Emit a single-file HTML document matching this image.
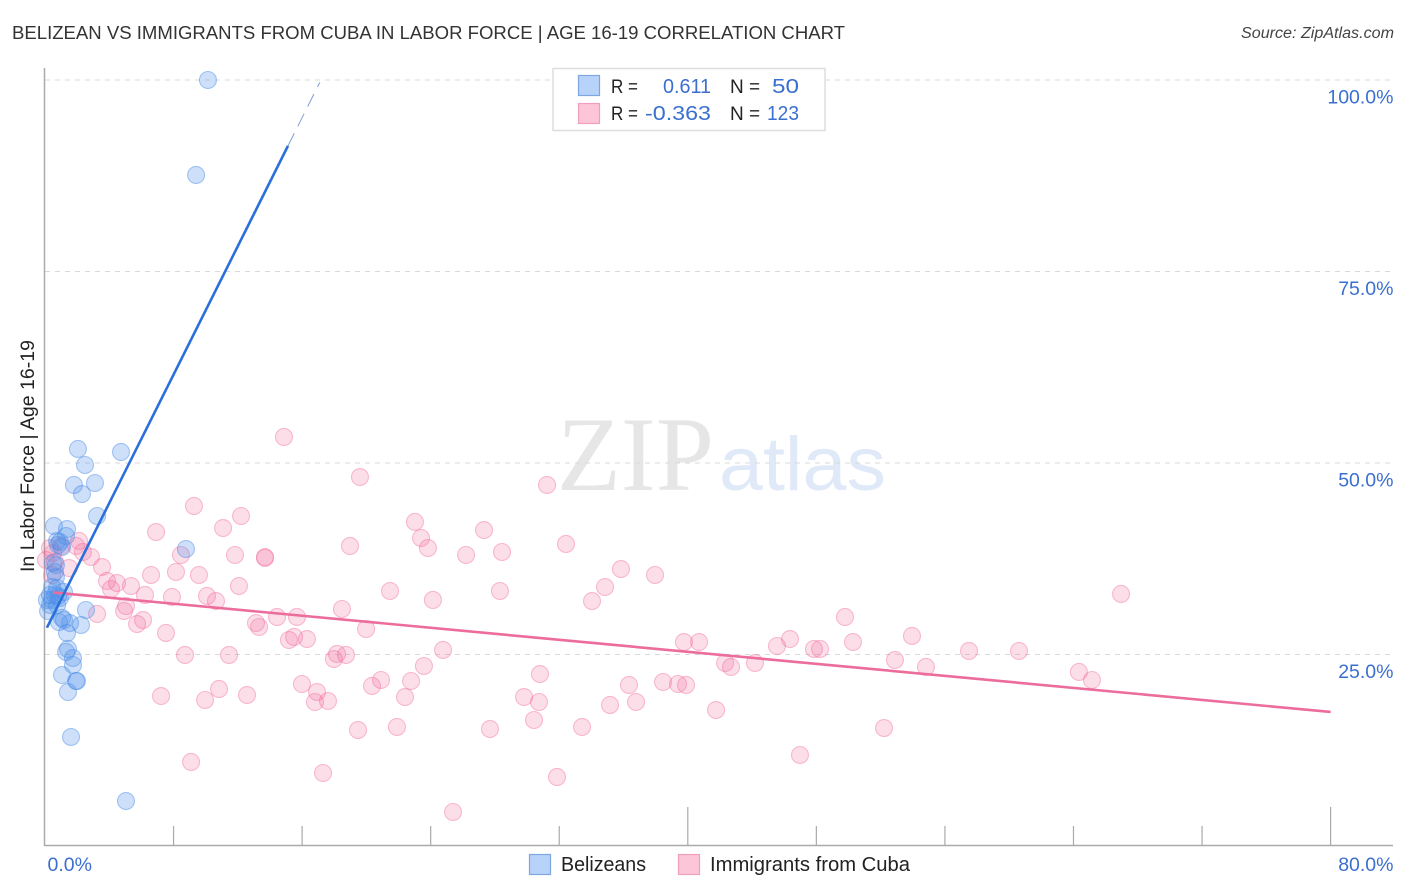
<!DOCTYPE html>
<html lang="en">
<head>
<meta charset="utf-8">
<title>Belizean vs Immigrants from Cuba in Labor Force | Age 16-19 Correlation Chart</title>
<style>
html,body{margin:0;padding:0;background:#fff;width:1406px;height:892px;overflow:hidden}
svg{display:block;font-family:"Liberation Sans",sans-serif}
</style>
</head>
<body>
<svg id="chart" xmlns="http://www.w3.org/2000/svg" width="1406" height="892" viewBox="0 0 1406 892">
  <rect x="0" y="0" width="1406" height="892" fill="#ffffff"/>
  <text x="12" y="39" font-size="18" fill="#333333" textLength="833" lengthAdjust="spacingAndGlyphs">BELIZEAN VS IMMIGRANTS FROM CUBA IN LABOR FORCE | AGE 16-19 CORRELATION CHART</text>
  <text x="1241" y="38" font-size="15.5" font-style="italic" fill="#444444" textLength="153" lengthAdjust="spacingAndGlyphs">Source: ZipAtlas.com</text>

  <g>
    <text x="557" y="490" font-family="'Liberation Serif',serif" font-size="106" fill="#e6e6e6" textLength="157" lengthAdjust="spacingAndGlyphs">ZIP</text>
    <text x="719" y="490" font-size="76" fill="#dfe9f8" textLength="167" lengthAdjust="spacingAndGlyphs">atlas</text>
  </g>

  <g id="grid"></g>
  <g id="axes"></g>
  <g id="points-cuba"></g>
  <g id="points-belizeans"></g>
  <g id="trends"></g>
  <g id="tick-labels"></g>

  <text transform="translate(34,572) rotate(-90)" x="0" y="0" font-size="19" fill="#222222" textLength="232" lengthAdjust="spacingAndGlyphs">In Labor Force | Age 16-19</text>

  <g>
    <rect x="553" y="68.5" width="272" height="62" fill="#ffffff" stroke="#dddddd" stroke-width="1.5"/>
    <rect x="578.5" y="75.5" width="21" height="20" fill="#b8d3f9" stroke="#7ea6df" stroke-width="1.2"/>
    <rect x="578.5" y="103.5" width="21" height="20" fill="#fcc5d8" stroke="#f0a0bd" stroke-width="1.2"/>
    <text x="611" y="93" font-size="19" fill="#222222" textLength="27" lengthAdjust="spacingAndGlyphs">R =</text>
    <text x="663" y="93" font-size="20" fill="#3b6fcf" textLength="48" lengthAdjust="spacingAndGlyphs">0.611</text>
    <text x="730" y="93" font-size="19" fill="#222222">N =</text>
    <text x="772" y="93" font-size="20" fill="#3b6fcf" textLength="27" lengthAdjust="spacingAndGlyphs">50</text>
    <text x="611" y="120" font-size="19" fill="#222222" textLength="27" lengthAdjust="spacingAndGlyphs">R =</text>
    <text x="645" y="120" font-size="20" fill="#3b6fcf" textLength="66" lengthAdjust="spacingAndGlyphs">-0.363</text>
    <text x="730" y="120" font-size="19" fill="#222222">N =</text>
    <text x="767" y="120" font-size="20" fill="#3b6fcf" textLength="32" lengthAdjust="spacingAndGlyphs">123</text>
  </g>

  <g>
    <rect x="529.5" y="854.5" width="21" height="20" fill="#b8d3f9" stroke="#7ea6df" stroke-width="1.2"/>
    <text x="561" y="871" font-size="20" fill="#222222" textLength="85" lengthAdjust="spacingAndGlyphs">Belizeans</text>
    <rect x="678.5" y="854.5" width="21" height="20" fill="#fcc5d8" stroke="#f0a0bd" stroke-width="1.2"/>
    <text x="710" y="871" font-size="20" fill="#222222" textLength="200" lengthAdjust="spacingAndGlyphs">Immigrants from Cuba</text>
  </g>
</svg>

<script>
const xTicks = [8, 16, 24, 32, 40, 48, 56, 64, 72, 80];
const xMajorTicks = [40, 80];
const yGridValues = [25, 50, 75, 100];
const yTickLabels = ["25.0%", "50.0%", "75.0%", "100.0%"];
const xEndValues = [0, 80];
const xEndLabels = ["0.0%", "80.0%"];

const belizeanX = [10.14,9.40,2.05,2.49,4.73,1.80,3.11,2.30,3.24,8.77,0.56,1.37,0.75,1.31,0.93,0.81,1.06,0.50,0.68,0.62,0.68,0.44,0.75,1.18,0.31,0.62,0.81,0.44,0.93,0.12,0.31,0.75,0.19,2.55,1.06,1.18,0.87,1.56,2.24,1.37,1.43,1.31,1.74,1.74,1.06,1.93,1.99,1.43,1.62,5.04];
const belizeanY = [100.00,87.60,51.83,49.74,51.44,47.13,47.39,45.95,43.08,38.77,41.78,41.38,39.82,40.47,39.69,39.30,39.03,36.95,36.68,35.77,35.12,33.81,33.68,33.16,32.77,32.77,32.64,32.12,32.38,32.12,31.46,31.46,30.68,30.81,29.77,29.50,29.24,29.11,28.85,27.81,25.72,25.33,24.54,23.63,22.32,21.54,21.54,20.10,14.23,5.87];

const cubaX = [0.06,0.31,0.50,0.62,0.44,1.00,1.49,2.12,1.93,2.36,2.86,3.55,3.86,4.11,4.48,5.35,5.04,4.92,3.24,6.10,5.73,6.22,6.60,7.53,7.90,8.15,8.46,6.91,9.27,11.08,12.20,11.82,9.58,10.08,10.64,12.07,8.71,11.45,7.22,10.83,9.96,12.57,9.09,13.13,13.32,13.69,13.69,14.44,15.68,15.50,15.18,16.30,14.87,19.60,18.98,18.48,19.98,18.17,17.98,18.73,15.99,16.93,17.61,16.80,17.30,19.48,21.90,20.91,20.35,22.78,22.40,23.58,24.77,21.47,24.14,23.02,23.40,23.83,26.20,27.32,28.44,28.31,31.24,32.42,35.84,34.85,34.04,37.96,30.80,29.81,30.74,30.43,27.69,33.42,36.34,35.16,36.78,38.46,39.39,39.89,41.76,39.76,40.70,42.32,42.69,44.18,45.55,46.36,47.85,48.23,50.28,49.78,53.95,52.89,54.82,57.50,60.61,64.34,65.15,66.96,46.98,52.21,25.39,31.86];
const cubaY = [37.34,38.90,38.25,37.08,35.38,39.17,36.29,39.82,39.17,38.38,37.73,36.42,34.60,33.55,34.33,33.94,31.33,30.68,30.29,29.50,28.98,32.77,35.38,27.81,32.51,35.77,37.99,40.99,44.39,41.51,43.08,37.99,35.38,32.64,31.98,33.94,24.94,24.94,19.58,20.50,19.06,19.71,10.97,29.11,28.59,37.73,37.60,29.90,29.90,27.29,26.89,27.02,53.40,48.17,39.17,30.94,28.33,25.07,24.41,24.94,21.15,20.10,18.93,18.80,9.53,15.14,15.54,21.67,20.89,21.54,19.45,23.50,25.59,33.29,32.12,42.30,40.21,38.90,37.99,41.25,38.38,33.29,47.13,39.43,36.16,33.81,31.98,35.38,22.45,19.45,18.80,16.45,15.27,15.54,21.02,18.41,18.80,21.41,21.15,21.02,17.75,26.63,26.63,23.89,23.37,23.89,26.11,27.02,25.72,25.72,26.63,29.90,27.42,24.28,23.37,25.46,25.46,22.72,21.67,32.90,11.88,15.40,4.44,9.01];

const belizeanTrendX = [0.12, 15.12];
const belizeanTrendY = [28.5, 91.4];
const belizeanDashX = [15.12, 17.1];
const belizeanDashY = [91.4, 99.7];
const cubaTrendX = [0.5, 80];
const cubaTrendY = [33.1, 17.5];

const SVG_NS = "http://www.w3.org/2000/svg";
function xScale(v) { return 45 + v * 16.07; }
function yScale(v) { return 846 - v * 7.66; }
function make(tag, parentId) {
  const el = document.createElementNS(SVG_NS, tag);
  document.getElementById(parentId).appendChild(el);
  return el;
}
function line(parentId, x1, y1, x2, y2, color, width) {
  const el = make("line", parentId);
  el.setAttribute("x1", x1);
  el.setAttribute("y1", y1);
  el.setAttribute("x2", x2);
  el.setAttribute("y2", y2);
  el.setAttribute("stroke", color);
  el.setAttribute("stroke-width", width);
  return el;
}

yGridValues.forEach(function (v) {
  const el = line("grid", 45, yScale(v), 1393, yScale(v), "#d9d9d9", 1);
  el.setAttribute("stroke-dasharray", "5 5");
  
  
});

const yAxisLine = line("axes", 44.5, 68, 44.5, 846, "#aaaaaa", 1.5);


const xAxisLine = line("axes", 44, 845.5, 1393, 845.5, "#aaaaaa", 1.5);



xTicks.forEach(function (v) {
  const top = xMajorTicks.indexOf(v) >= 0 ? 807 : 826;
  const el = line("axes", xScale(v), top, xScale(v), 846, "#aaaaaa", 1.2);
  
  
});

function drawPoints(parentId, xs, ys, color, fillOpacity, strokeOpacity) {
  xs.forEach(function (v, i) {
    const c = make("circle", parentId);
    c.setAttribute("cx", xScale(v));
    c.setAttribute("cy", yScale(ys[i]));
    c.setAttribute("r", 8.5);
    c.setAttribute("fill", color);
    c.setAttribute("fill-opacity", fillOpacity);
    c.setAttribute("stroke", color);
    c.setAttribute("stroke-opacity", strokeOpacity);
    c.setAttribute("stroke-width", 1.1);
    
    
  });
}
drawPoints("points-cuba", cubaX, cubaY, "#f06a9b", 0.22, 0.42);
drawPoints("points-belizeans", belizeanX, belizeanY, "#4f8fe8", 0.28, 0.48);

const cubaTrend = line("trends", xScale(cubaTrendX[0]), yScale(cubaTrendY[0]), xScale(cubaTrendX[1]), yScale(cubaTrendY[1]), "#ec6c9b", 2.6);


const belizeanTrend = line("trends", xScale(belizeanTrendX[0]), yScale(belizeanTrendY[0]), xScale(belizeanTrendX[1]), yScale(belizeanTrendY[1]), "#2b70d8", 2.6);


const belizeanDash = line("trends", xScale(belizeanDashX[0]), yScale(belizeanDashY[0]), xScale(belizeanDashX[1]), yScale(belizeanDashY[1]), "#7f9fd4", 1);
belizeanDash.setAttribute("stroke-dasharray", "14 8");



function label(text, anchorX, baselineY) {
  const t = make("text", "tick-labels");
  t.setAttribute("x", anchorX);
  t.setAttribute("y", baselineY);
  t.setAttribute("text-anchor", "end");
  t.setAttribute("font-size", 19.5);
  t.setAttribute("fill", "#3b6fcf");
  t.textContent = text;
  return t;
}
yGridValues.forEach(function (v, i) {
  const t = label(yTickLabels[i], 1393.5, yScale(v) + 23.5);
  
  
});
xEndValues.forEach(function (v, i) {
  const t = label(xEndLabels[i], i === 0 ? xScale(v) + 47 : 1393.5, 871);
  
  
});
</script>
</body>
</html>
